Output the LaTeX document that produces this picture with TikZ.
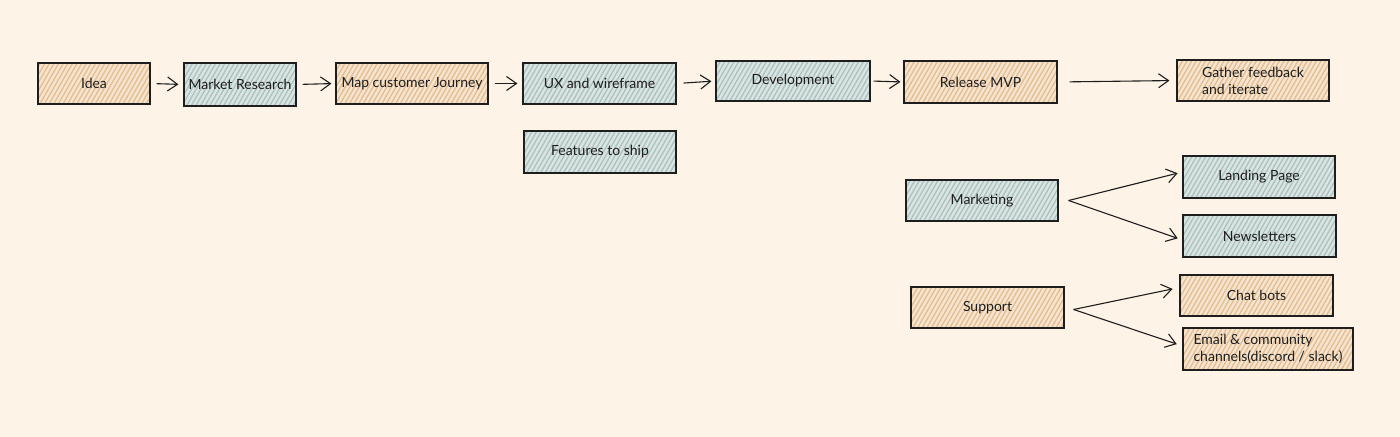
\documentclass[tikz,border=0pt]{standalone}
\usepackage{fontspec}
\setmainfont{Lato}
\usetikzlibrary{arrows.meta,patterns.meta,calc}
\definecolor{bg}{HTML}{FDF3E7}
\definecolor{ofill}{HTML}{F6E4CF}
\definecolor{oline}{HTML}{E2BD92}
\definecolor{bfill}{HTML}{DCE4DF}
\definecolor{bline}{HTML}{A8C1C3}
\definecolor{ink}{HTML}{1E1E1E}
\tikzset{
  boxbase/.style={draw=ink, line width=0.55pt, rectangle, inner sep=1pt,
    font=\fontsize{7}{8.5}\selectfont, text=ink, align=left},
  obox/.style={boxbase, preaction={fill=ofill},
    pattern={Lines[angle=60,distance=2pt,line width=0.65pt]}, pattern color=oline},
  bbox/.style={boxbase, preaction={fill=bfill},
    pattern={Lines[angle=60,distance=2pt,line width=0.65pt]}, pattern color=bline},
  conn/.style={draw=ink, line width=0.55pt, -{Straight Barb[length=5pt,width=7pt,line width=0.55pt]}},
}
\begin{document}
\begin{tikzpicture}[x=0.5pt,y=-0.5pt]
\useasboundingbox[fill=bg] (0,0) rectangle (1400,437);
\node[obox, minimum width=56pt, minimum height=20.5pt] (idea) at (94,83.5) {Idea};
\node[bbox, minimum width=56pt, minimum height=21.5pt] (mr) at (240,84.5) {Market Research};
\node[obox, minimum width=76pt, minimum height=20.5pt] (map) at (412,83.5) {Map customer Journey};
\node[bbox, minimum width=76.5pt, minimum height=20.5pt] (ux) at (599.5,83.5) {UX and wireframe};
\node[bbox, minimum width=77pt, minimum height=20pt] (dev) at (793,81) {Development};
\node[obox, minimum width=76.5pt, minimum height=21pt] (rel) at (980.5,82) {Release MVP};
\node[obox, minimum width=76pt, minimum height=20.5pt] (gat) at (1253,80.5) {Gather feedback\\and iterate};
\node[bbox, minimum width=76pt, minimum height=21pt] (feat) at (600,152) {Features to ship};
\node[bbox, minimum width=76pt, minimum height=20.5pt] (mkt) at (982,200.5) {Marketing};
\node[bbox, minimum width=76pt, minimum height=21pt] (land) at (1259,177) {Landing Page};
\node[bbox, minimum width=76.5pt, minimum height=21pt] (news) at (1259.5,236) {Newsletters};
\node[obox, minimum width=76.5pt, minimum height=20.5pt] (sup) at (987.5,307.5) {Support};
\node[obox, minimum width=76.5pt, minimum height=20.5pt] (chat) at (1256.5,295.5) {Chat bots};
\node[obox, minimum width=85pt, minimum height=21pt] (mail) at (1268,349) {Email \& community\\channels(discord / slack)};
\coordinate (mkto) at ($(mkt.east)+(10,0)$);
\coordinate (supo) at ($(sup.east)+(9,2)$);
\draw[conn, shorten <=3pt, shorten >=2.5pt] (idea.east) -- (mr.west);
\draw[conn, shorten <=3pt, shorten >=2pt] (mr.east) -- (map.west);
\draw[conn, shorten <=3pt, shorten >=2.5pt] (map.east) -- (ux.west);
\draw[conn, shorten <=3.5pt, shorten >=2pt] (ux.east) -- (dev.west);
\draw[conn, shorten <=1.5pt, shorten >=1.5pt] (dev.east) -- (rel.west);
\draw[conn, shorten <=6pt, shorten >=3.5pt] (rel.east) -- (gat.west);
\draw[conn, shorten >=2.5pt] (mkto) -- ($(land.west)+(0,-5)$);
\draw[conn, shorten >=2.5pt] (mkto) -- ($(news.west)+(0,4)$);
\draw[conn, shorten >=3.5pt] (supo) -- ($(chat.west)+(0,-8)$);
\draw[conn, shorten >=3pt] (supo) -- ($(mail.west)+(0,-3)$);
\end{tikzpicture}
\end{document}
